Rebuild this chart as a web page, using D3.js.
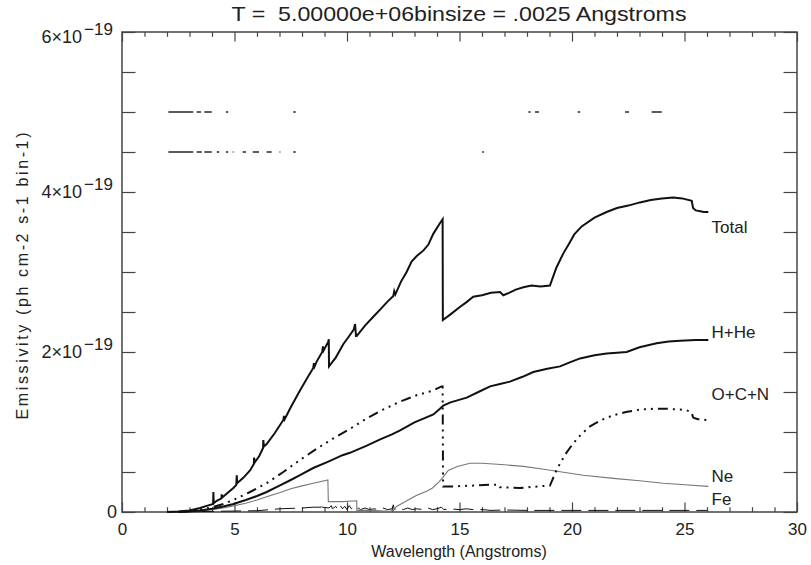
<!DOCTYPE html>
<html><head><meta charset="utf-8">
<script src="https://cdn.jsdelivr.net/npm/d3@7"></script>
<style>
html,body{margin:0;padding:0;background:#fff;}
text{font-family:"Liberation Sans",Arial,sans-serif;fill:#222;}
</style></head>
<body>
<svg id="chart" width="811" height="565"></svg>
<script>
// ---- data (emissivity in units of 1e-19 ph cm-2 s-1 bin-1) ----
const titleText = "T =  5.00000e+06binsize = .0025 Angstroms";
const xLabel = "Wavelength (Angstroms)";
const yLabel = "Emissivity (ph cm-2 s-1 bin-1)";
const xMajorTicks = [0,5,10,15,20,25,30];
const yMajorTicks = [0,2,4,6];
const yExponent = "19";

const totalCurve = [[2.0,0],[2.5,0.005],[3.0,0.02],[3.47,0.05],[3.8,0.08],[4.05,0.1],[4.06,0.25],[4.08,0.11],[4.21,0.14],[4.42,0.17],[4.43,0.22],[4.45,0.18],[4.7,0.24],[4.95,0.30],[5.08,0.34],[5.1,0.46],[5.12,0.36],[5.4,0.43],[5.69,0.52],[5.86,0.6],[5.87,0.68],[5.9,0.62],[6.1,0.7],[6.27,0.8],[6.28,0.9],[6.31,0.82],[6.43,0.85],[6.8,0.99],[7.17,1.15],[7.2,1.2],[7.23,1.16],[7.5,1.31],[7.91,1.52],[8.2,1.66],[8.5,1.8],[8.53,1.86],[8.56,1.82],[8.65,1.88],[8.9,2.0],[8.93,2.07],[8.96,2.02],[9.17,2.13],[9.19,2.16],[9.2,1.82],[9.5,1.93],[9.84,2.1],[10.1,2.2],[10.3,2.28],[10.36,2.35],[10.4,2.2],[10.43,2.2],[10.8,2.33],[11.2,2.45],[11.47,2.53],[11.8,2.63],[12.06,2.7],[12.1,2.76],[12.15,2.72],[12.4,2.88],[12.65,3.0],[12.87,3.13],[13.1,3.2],[13.4,3.27],[13.61,3.34],[13.84,3.48],[14.13,3.61],[14.25,3.66],[14.26,2.40],[14.6,2.47],[15.0,2.56],[15.3,2.62],[15.61,2.69],[16.0,2.71],[16.4,2.74],[16.8,2.75],[16.95,2.71],[17.2,2.74],[17.5,2.78],[17.84,2.81],[18.2,2.83],[18.6,2.82],[19.02,2.83],[19.3,3.05],[19.61,3.23],[19.9,3.37],[20.1,3.47],[20.43,3.57],[21.0,3.68],[21.54,3.75],[22.0,3.8],[22.5,3.83],[23.02,3.87],[23.5,3.9],[24.0,3.92],[24.5,3.93],[24.9,3.92],[25.32,3.89],[25.38,3.80],[25.5,3.77],[25.7,3.76],[25.85,3.75],[26.06,3.75]];

const hheCurve = [[2.5,0],[3,0.005],[3.5,0.02],[4,0.04],[4.5,0.07],[4.95,0.1],[5.5,0.15],[6,0.2],[6.43,0.25],[7,0.33],[7.5,0.4],[7.91,0.46],[8.5,0.55],[9.17,0.63],[9.8,0.71],[10.13,0.74],[10.88,0.83],[11.5,0.91],[12.0,0.97],[12.36,1.02],[13.0,1.12],[13.84,1.22],[14.13,1.29],[14.28,1.33],[14.6,1.37],[15.32,1.43],[15.84,1.5],[16.36,1.57],[16.8,1.6],[17.24,1.63],[17.8,1.69],[18.28,1.75],[18.9,1.79],[19.47,1.82],[19.9,1.87],[20.36,1.92],[21.0,1.96],[21.54,1.98],[22.0,1.99],[22.43,2.0],[23.0,2.06],[23.76,2.11],[24.3,2.13],[24.8,2.14],[25.5,2.15],[26.06,2.15]];

const ocnCurve = [[2.5,0],[3.0,0.01],[3.5,0.03],[4.0,0.06],[4.5,0.1],[4.95,0.15],[5.69,0.25],[6.43,0.36],[7.17,0.5],[7.91,0.65],[8.65,0.79],[9.39,0.92],[10.13,1.04],[10.88,1.17],[11.6,1.28],[12.36,1.38],[13.1,1.46],[13.84,1.52],[14.2,1.57],[14.25,1.57],[14.27,0.32],[14.7,0.32],[15.61,0.33],[16.3,0.34],[16.75,0.34],[16.8,0.31],[17.69,0.30],[18.5,0.32],[19.02,0.33],[19.32,0.53],[19.7,0.72],[20.06,0.86],[20.4,0.97],[20.8,1.07],[21.3,1.15],[21.84,1.21],[22.4,1.25],[23.02,1.28],[23.6,1.29],[24.21,1.29],[24.8,1.28],[25.1,1.27],[25.3,1.25],[25.39,1.18],[25.6,1.16],[26.0,1.15]];

const neCurve = [[2.5,0],[3.0,0.005],[3.5,0.015],[4.0,0.03],[4.5,0.05],[5.0,0.08],[5.5,0.11],[6.0,0.15],[6.43,0.19],[7.0,0.24],[7.5,0.29],[7.91,0.32],[8.5,0.36],[9.15,0.40],[9.17,0.13],[9.8,0.13],[10.43,0.14],[10.44,0.02],[11.0,0.02],[11.9,0.01],[12.06,0.02],[12.2,0.07],[12.6,0.13],[13.1,0.21],[13.54,0.26],[13.8,0.3],[14.1,0.38],[14.28,0.44],[14.5,0.52],[14.9,0.57],[15.47,0.61],[16.0,0.61],[17.0,0.59],[17.84,0.57],[18.6,0.54],[19.32,0.51],[20.5,0.46],[21.84,0.42],[23.0,0.39],[24.06,0.36],[25.0,0.34],[26.06,0.32]];

const feCurve = [[2.0,0],[3.0,0.003],[4.0,0.008],[5.0,0.012],[6.0,0.016],[7.0,0.04],[8.0,0.05],[8.5,0.06],[8.85,0.06],[8.87,0.11],[8.9,0.06],[9.2,0.05],[9.3,0.08],[9.35,0.04],[9.5,0.07],[9.6,0.03],[9.7,0.08],[9.8,0.04],[9.9,0.07],[10.0,0.03],[10.1,0.08],[10.2,0.04],[10.3,0.06],[10.4,0.03],[10.5,0.05],[10.6,0.03],[10.8,0.05],[11.0,0.03],[11.2,0.04],[11.4,0.03],[11.6,0.05],[11.8,0.03],[12.0,0.04],[12.06,0.09],[12.1,0.03],[12.3,0.05],[12.5,0.03],[12.7,0.05],[12.9,0.03],[13.1,0.04],[13.4,0.03],[13.6,0.05],[13.8,0.03],[14.0,0.04],[14.2,0.06],[14.3,0.03],[14.6,0.04],[15.0,0.03],[15.3,0.04],[15.6,0.03],[16.0,0.03],[16.4,0.02],[17.0,0.025],[18.0,0.02],[20.0,0.02],[22.0,0.02],[24.0,0.02],[26.0,0.02]];

// stray horizontal marks at 5.0 and 4.5 (x ranges of visible pieces)
const markLevelA = 5.0;
const markPiecesA = [[2.06,3.17],[3.32,3.51],[3.66,3.99],[4.62,4.72],[7.61,7.72],[18.06,18.16],[18.36,18.53],[20.25,20.36],[22.36,22.53],[23.54,23.99]];
const markLevelB = 4.5;
const markPiecesB = [[2.06,3.17],[3.32,3.55],[3.66,3.99],[4.21,4.32],[4.62,4.72],[4.92,4.96],[5.36,5.51],[5.81,6.09],[6.43,6.65],[7.0,7.04],[7.61,7.72],[16.01,16.09]];

const seriesLabels = ["Total","H+He","O+C+N","Ne","Fe"];
const labelValues = [3.49, 2.175, 1.4, 0.375, 0.0875];

// ---- drawing ----
const svg = d3.select("#chart");
const x = d3.scaleLinear().domain([0,30]).range([122,797]);
const y = d3.scaleLinear().domain([0,6]).range([512,32]);
const line = d3.line().x(d=>x(d[0])).y(d=>y(d[1]));

// title
svg.append("text").attr("x",459).attr("y",21).attr("text-anchor","middle")
  .style("font-size","21px").style("white-space","pre")
  .attr("textLength",455).attr("lengthAdjust","spacingAndGlyphs").text(titleText);

// axes
const frameColor = "#444";
const xMinor = d3.range(0,31,1).filter(v=>v%5!==0);
const yMinor = d3.range(0,6.01,0.5).filter(v=>v%2!==0);
function styleAxis(g){ g.selectAll("path").remove(); g.selectAll("line").attr("stroke",frameColor).attr("stroke-width",1.2); }

svg.append("g").attr("transform","translate(0,512)")
  .call(d3.axisBottom(x).tickValues(xMajorTicks).tickSize(-9.6).tickPadding(11).tickFormat(d3.format("d")))
  .call(styleAxis).call(g=>g.selectAll("text").style("font-size","17px").attr("fill","#222").attr("font-family","Liberation Sans, Arial, sans-serif"));
svg.append("g").attr("transform","translate(0,512)")
  .call(d3.axisBottom(x).tickValues(xMinor).tickSize(-4.8).tickFormat("")).call(styleAxis);
svg.append("g").attr("transform","translate(0,32)")
  .call(d3.axisTop(x).tickValues(xMajorTicks).tickSize(-9.6).tickFormat("")).call(styleAxis);
svg.append("g").attr("transform","translate(0,32)")
  .call(d3.axisTop(x).tickValues(xMinor).tickSize(-4.8).tickFormat("")).call(styleAxis);
svg.append("g").attr("transform","translate(122,0)")
  .call(d3.axisLeft(y).tickValues(yMajorTicks).tickSize(-13.5).tickFormat("")).call(styleAxis);
svg.append("g").attr("transform","translate(122,0)")
  .call(d3.axisLeft(y).tickValues(yMinor).tickSize(-13.5).tickFormat("")).call(styleAxis);
svg.append("g").attr("transform","translate(797,0)")
  .call(d3.axisRight(y).tickValues(yMajorTicks).tickSize(-13.5).tickFormat("")).call(styleAxis);
svg.append("g").attr("transform","translate(797,0)")
  .call(d3.axisRight(y).tickValues(yMinor).tickSize(-13.5).tickFormat("")).call(styleAxis);

svg.append("rect").attr("x",x(0)).attr("y",y(6)).attr("width",x(30)-x(0)).attr("height",y(0)-y(6))
  .attr("fill","none").attr("stroke",frameColor).attr("stroke-width",1.5);

// y tick labels with exponent
yMajorTicks.forEach(v=>{
  const ty = y(v);
  if(v===0){
    svg.append("text").attr("x",117).attr("y",ty+6).attr("text-anchor","end").style("font-size","18px").text("0");
  } else {
    const dy = v===6 ? 11 : 6;
    svg.append("text").attr("x",82).attr("y",ty+dy).attr("text-anchor","end").style("font-size","18px").text(v+"\u00d710");
    svg.append("text").attr("x",84).attr("y",ty+dy-8).attr("text-anchor","start").style("font-size","17px").text("\u2212"+yExponent);
  }
});

// axis titles
svg.append("text").attr("x",459).attr("y",557).attr("text-anchor","middle").style("font-size","16px").text(xLabel);
svg.append("text").attr("transform","translate(28,276) rotate(-90)").attr("text-anchor","middle")
  .style("font-size","16px").attr("fill","#333").attr("textLength",287).attr("lengthAdjust","spacing").text(yLabel);

// stray marks
const plot = svg.append("g");
[[markLevelA,markPiecesA],[markLevelB,markPiecesB]].forEach(([lv,pieces])=>{
  plot.selectAll(null).data(pieces).enter().append("line")
    .attr("x1",d=>x(d[0])).attr("x2",d=>x(d[1])).attr("y1",y(lv)).attr("y2",y(lv))
    .attr("stroke","#333").attr("stroke-width",1.6);
});

// curves
plot.append("path").datum(feCurve).attr("d",line).attr("fill","none").attr("stroke","#111").attr("stroke-width",1).attr("stroke-dasharray","20,7");
plot.append("path").datum(neCurve).attr("d",line).attr("fill","none").attr("stroke","#777").attr("stroke-width",1.1);
plot.append("path").datum(ocnCurve).attr("d",line).attr("fill","none").attr("stroke","#111").attr("stroke-width",2).attr("stroke-dasharray","10,5,2,5,2,5,2,5");
plot.append("path").datum(hheCurve).attr("d",line).attr("fill","none").attr("stroke","#111").attr("stroke-width",2);
plot.append("path").datum(totalCurve).attr("d",line).attr("fill","none").attr("stroke","#111").attr("stroke-width",2);

// series labels
seriesLabels.forEach((s,i)=>{
  plot.append("text").attr("x",x(26.2)).attr("y",y(labelValues[i])).attr("text-anchor","start").style("font-size","17px").text(s);
});
</script>
</body></html>
